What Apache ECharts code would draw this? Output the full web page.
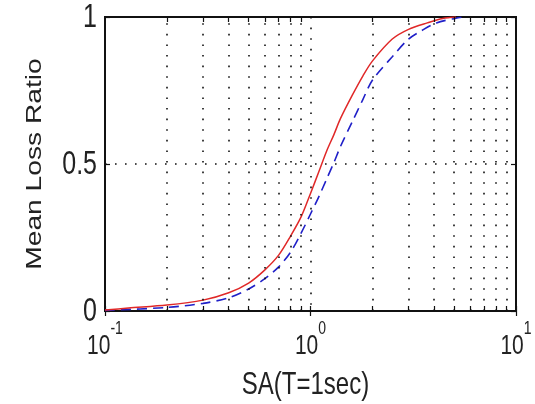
<!DOCTYPE html>
<html><head><meta charset="utf-8">
<script src="https://cdn.jsdelivr.net/npm/echarts@6/dist/echarts.min.js"></script>
<style>html,body{margin:0;padding:0;background:#fff}#c{width:535px;height:404px}</style>
</head><body><div id="c"></div>
<script>
// ---- data ----
const xTickValues = [0.1, 1, 10];
const xTickBase = '10';
const xTickExp = ['-1', '0', '1'];
const yTickValues = [0, 0.5, 1];
const yTickLabels = ['0', '0.5', '1'];
const minorGridX = [0.2,0.3,0.4,0.5,0.6,0.7,0.8,0.9,2,3,4,5,6,7,8,9];

const xRed = [0.1,0.13,0.2,0.3,0.4,0.5,0.6,0.7,0.8,0.9,1.0,1.1,1.2,1.3,1.4,1.6,1.8,2.0,2.5,3.0,3.7,4.4,5.1];
const yRed = [0.003,0.01,0.02,0.037,0.062,0.095,0.14,0.19,0.255,0.32,0.40,0.475,0.545,0.6,0.655,0.735,0.8,0.85,0.925,0.958,0.98,0.995,1.0];

const xBlue = [0.1,0.2,0.3,0.4,0.5,0.6,0.7,0.8,0.9,1.0,1.1,1.2,1.3,1.4,1.6,1.8,2.0,2.5,3.0,3.5,4.1,5.1,5.5];
const yBlue = [0.002,0.012,0.026,0.045,0.075,0.11,0.15,0.2,0.265,0.33,0.39,0.45,0.505,0.56,0.645,0.72,0.785,0.865,0.925,0.955,0.98,0.996,1.0];

const xName = 'SA(T=1sec)';
const yName = 'Mean Loss Ratio';

// ---- chart ----
const FONT = "'Liberation Sans',Arial,sans-serif";
const TXT = '#222';
const STRETCH = 1.3;
const chart = echarts.init(document.getElementById('c'), null, {renderer: 'canvas'});

const dotted = {color: '#111', width: 1.6, type: [1.6, 9]};
const tickLen = 0.017;
const gridLines = minorGridX.map(v => ({xAxis: v, lineStyle: dotted}));
gridLines.push({yAxis: 0.5, lineStyle: {color: '#111', width: 1.6, type: [1.6, 8.4]}});
const minorTicks = [];
minorGridX.forEach(v => {
  minorTicks.push([{coord: [v, 0], lineStyle: {color: '#111', width: 1.2, type: 'solid'}}, {coord: [v, tickLen]}]);
  minorTicks.push([{coord: [v, 1], lineStyle: {color: '#111', width: 1.2, type: 'solid'}}, {coord: [v, 1 - tickLen]}]);
});
const tickStyle = {show: true, inside: true, length: 5, lineStyle: {color: '#111', width: 1.2}};

chart.setOption({
  animation: false,
  backgroundColor: '#fff',
  grid: {left: 105, right: 19, top: 17, bottom: 93, show: true, borderColor: '#111', borderWidth: 2, containLabel: false},
  xAxis: [{
    type: 'log', logBase: 10, min: 0.1, max: 10, interval: 1,
    axisLine: {show: true, lineStyle: {color: '#111', width: 2}},
    axisTick: tickStyle,
    splitLine: {show: true, lineStyle: dotted},
    axisLabel: {show: false}
  }, {
    type: 'log', logBase: 10, min: 0.1, max: 10, interval: 1, position: 'top',
    axisLine: {show: false}, axisLabel: {show: false}, splitLine: {show: false},
    axisTick: tickStyle
  }],
  yAxis: [{
    type: 'value', min: 0, max: 1, interval: 0.5,
    axisLine: {show: true, lineStyle: {color: '#111', width: 2}},
    axisTick: tickStyle,
    splitLine: {show: false},
    axisLabel: {show: false}
  }, {
    type: 'value', min: 0, max: 1, interval: 0.5, position: 'right',
    axisLine: {show: false}, axisLabel: {show: false}, splitLine: {show: false},
    axisTick: tickStyle
  }],
  series: [{
    type: 'line', name: 'grid', data: [[0.1, 0]], symbol: 'none', silent: true,
    lineStyle: {width: 0}, z: 1,
    markLine: {silent: true, symbol: ['none', 'none'], label: {show: false}, animation: false,
      data: gridLines.concat(minorTicks)}
  }, {
    type: 'line', name: 'blue', data: xBlue.map((x, i) => [x, yBlue[i]]),
    symbol: 'none', smooth: 0.3, z: 3,
    lineStyle: {color: '#2020c8', width: 1.6, type: [10, 6]}
  }, {
    type: 'line', name: 'red', data: xRed.map((x, i) => [x, yRed[i]]),
    symbol: 'none', smooth: 0.3, z: 4,
    lineStyle: {color: '#e02828', width: 1.5}
  }]
});

// ---- text (vertically stretched like the reference) ----
const ctx = document.createElement('canvas').getContext('2d');
function textW(s, size) { ctx.font = size + 'px ' + FONT; return ctx.measureText(s).width; }
const baseSize = 21, supSize = 14, ySize = 25;
const g = [];
xTickValues.forEach((v, i) => {
  const px = chart.convertToPixel({xAxisIndex: 0}, v);
  const wb = textW(xTickBase, baseSize), ws = textW(xTickExp[i], supSize);
  const left = px - (wb + ws) / 2;
  g.push({type: 'text', x: left, y: 346, scaleY: STRETCH, silent: true,
    style: {text: xTickBase, font: baseSize + 'px ' + FONT, fill: TXT, align: 'left', verticalAlign: 'middle'}});
  g.push({type: 'text', x: left + wb, y: 329, scaleY: STRETCH, silent: true,
    style: {text: xTickExp[i], font: supSize + 'px ' + FONT, fill: TXT, align: 'left', verticalAlign: 'middle'}});
});
yTickValues.forEach((v, i) => {
  const py = chart.convertToPixel({yAxisIndex: 0}, v);
  g.push({type: 'text', x: 97, y: py + 1, scaleY: STRETCH, silent: true,
    style: {text: yTickLabels[i], font: ySize + 'px ' + FONT, fill: TXT, align: 'right', verticalAlign: 'middle'}});
});
const cx = (chart.convertToPixel({xAxisIndex: 0}, 0.1) + chart.convertToPixel({xAxisIndex: 0}, 10)) / 2;
const cy = (chart.convertToPixel({yAxisIndex: 0}, 0) + chart.convertToPixel({yAxisIndex: 0}, 1)) / 2;
g.push({type: 'text', x: cx - 5, y: 385, scaleY: STRETCH, silent: true,
  style: {text: xName, font: '24px ' + FONT, fill: TXT, align: 'center', verticalAlign: 'middle'}});
g.push({type: 'text', x: 35, y: cy, rotation: Math.PI / 2, scaleX: 1.28, silent: true,
  style: {text: yName, font: '22px ' + FONT, fill: TXT, align: 'center', verticalAlign: 'middle'}});
chart.setOption({graphic: g});
</script>
</body></html>
